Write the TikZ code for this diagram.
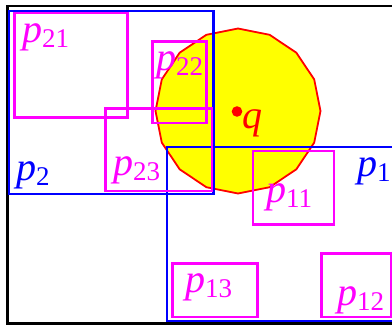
\documentclass[tikz,border=0pt]{standalone}
\usepackage{fontspec}
\setmainfont{Liberation Serif}
\usetikzlibrary{positioning}
\definecolor{NodeBlue}{RGB}{0,0,255}
\definecolor{LeafMagenta}{RGB}{255,0,255}
\definecolor{QueryRed}{RGB}{255,0,0}
\definecolor{QueryFill}{RGB}{255,255,0}
\newcommand{\entry}[2]{\textit{#1}\raisebox{-5pt}{\fontsize{27}{29}\selectfont #2}}

\begin{document}
\begin{tikzpicture}[x=1pt,y=-1pt,
    nodebox/.style={draw=NodeBlue,line width=2.3pt},
    leafbox/.style={draw=LeafMagenta,line width=2.5pt},
    lbl/.style={anchor=base west,inner sep=0pt,font=\fontsize{40}{42}\selectfont}]
    \useasboundingbox (0,0) rectangle (392,325);
    \clip (0,0) rectangle (392,325);
    % query region
    \draw[QueryRed,line width=1.8pt,fill=QueryFill] (238,111) +(90:82.5)
        \foreach \k in {1,...,15} { -- +(90+22.5*\k:82.5) } -- cycle;
    \fill[QueryRed] (237,111.5) circle (5.3pt);
    \node[lbl,text=QueryRed] (q) at (242,128.4) {\textit{q}};
    % root frame
    \draw[line width=2.8pt] (7.7,6) rectangle (420,323.5);
    % inner nodes
    \draw[nodebox] (9,11) rectangle (213.6,194.3);
    \draw[nodebox] (167,146.7) rectangle (420,321);
    \node[lbl,text=NodeBlue] (p2) at (16,180) {\entry{p}{2}};
    \node[lbl,text=NodeBlue] (p1) at (357,176.5) {\entry{p}{1}};
    % leaves
    \draw[leafbox] (14.3,13) rectangle (127.7,117.7);
    \draw[leafbox] (152.7,41.7) rectangle (206.3,123.2);
    \draw[leafbox] (105.7,108.3) rectangle (212,191);
    \draw[leafbox] (253,150.8) rectangle (334,224.5);
    \draw[leafbox] (321.3,253.3) rectangle (391,317);
    \draw[leafbox] (172.3,263.3) rectangle (257.7,317);
    \node[lbl,text=LeafMagenta] (p21) at (22,42.5) {\entry{p}{21}};
    \node[lbl,text=LeafMagenta] (p22) at (156,70) {\entry{p}{22}};
    \node[lbl,text=LeafMagenta] (p23) at (113,175) {\entry{p}{23}};
    \node[lbl,text=LeafMagenta] (p11) at (266,202) {\entry{p}{11}};
    \node[lbl,text=LeafMagenta] (p12) at (337,305) {\entry{p}{12}};
    \node[lbl,text=LeafMagenta] (p13) at (185,292) {\entry{p}{13}};
\end{tikzpicture}
\end{document}
